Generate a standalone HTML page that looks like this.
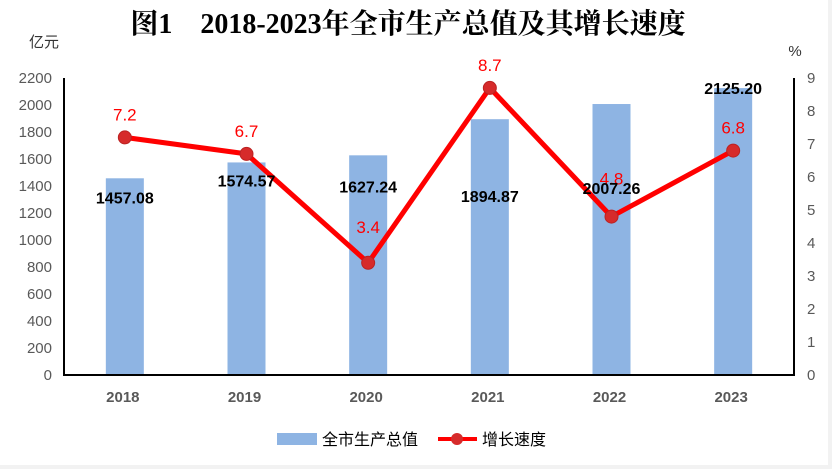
<!DOCTYPE html>
<html><head><meta charset="utf-8">
<style>
body{margin:0;background:#f2f2f2}
svg{display:block}
</style></head><body>
<svg width="832" height="469" xmlns="http://www.w3.org/2000/svg">
<rect x="0" y="0" width="828" height="465" fill="#fff"/>
<text x="408" y="33" text-anchor="middle" font-family="'Liberation Serif','Noto Serif CJK SC',serif" font-size="28" font-weight="bold" fill="#000">图1　2018-2023年全市生产总值及其增长速度</text>
<text x="44" y="47" text-anchor="middle" font-family="'Liberation Sans','Noto Sans CJK SC',sans-serif" font-size="15" fill="#333">亿元</text>
<text x="795" y="56" text-anchor="middle" font-family="'Liberation Sans',sans-serif" font-size="15" fill="#333">%</text>
<g id="plot"></g>
<g>
<rect x="277" y="433" width="40" height="12" fill="#8eb4e3"/>
<text x="322" y="445" font-family="'Liberation Sans','Noto Sans CJK SC',sans-serif" font-size="16" fill="#000">全市生产总值</text>
<line x1="438" y1="439" x2="477" y2="439" stroke="#ff0000" stroke-width="4"/>
<circle cx="457" cy="439" r="6" fill="#d62b2b"/>
<text x="482" y="445" font-family="'Liberation Sans','Noto Sans CJK SC',sans-serif" font-size="16" fill="#000">增长速度</text>
</g>
</svg>
<script>
const categories = ["2018","2019","2020","2021","2022","2023"];
const gdpValues = [1457.08,1574.57,1627.24,1894.87,2007.26,2125.20];
const gdpLabels = ["1457.08","1574.57","1627.24","1894.87","2007.26","2125.20"];
const growthValues = [7.2,6.7,3.4,8.7,4.8,6.8];
const leftTicks = [0,200,400,600,800,1000,1200,1400,1600,1800,2000,2200];
const rightTicks = [0,1,2,3,4,5,6,7,8,9];

const NS="http://www.w3.org/2000/svg";
const g=document.getElementById('plot');
const x0=64,x1=794,yBase=375,yTop=78;
const yL=v=>yBase-(v/2200)*(yBase-yTop);
const yR=v=>yBase-(v/9)*(yBase-yTop);
const band=(x1-x0)/categories.length;
const xC=i=>x0+band*(i+0.5);
function mk(tag,attrs,txt){const e=document.createElementNS(NS,tag);for(const k in attrs)e.setAttribute(k,attrs[k]);if(txt!==undefined)e.textContent=txt;g.appendChild(e);return e;}
const font="'Liberation Sans',sans-serif";
leftTicks.forEach(t=>{
  const e=mk('text',{x:52,y:yL(t)+5,'text-anchor':'end','font-family':font,'font-size':15,fill:'#595959'},String(t));
  
  
});
rightTicks.forEach(t=>{
  const e=mk('text',{x:807,y:yR(t)+5,'font-family':font,'font-size':15,fill:'#595959'},String(t));
  
  
});
gdpValues.forEach((v,i)=>{
  const b=mk('rect',{x:xC(i)-19,y:yL(v),width:38,height:yBase-yL(v),fill:'#8eb4e3'});
  
  
  const c=mk('text',{x:xC(i)-2,y:yBase+27,'text-anchor':'middle','font-family':font,'font-size':15,'font-weight':'bold',fill:'#595959'},categories[i]);
  
  
});
const ax=mk('path',{d:`M${x0},${yTop}V${yBase}H${x1}V${yTop}`,fill:'none',stroke:'#000','stroke-width':2});


const pts=growthValues.map((v,i)=>[xC(i),yR(v)]);
const ln=mk('polyline',{points:pts.map(p=>p.join(',')).join(' '),fill:'none',stroke:'#ff0000','stroke-width':5,'stroke-linejoin':'round'});


const gOff=[-17,-17,-30,-17,-32,-17];
pts.forEach((p,i)=>{
  const c=mk('circle',{cx:p[0],cy:p[1],r:6.5,fill:'#d62b2b',stroke:'#b22','stroke-width':1});
  
  
  const t=mk('text',{x:p[0],y:p[1]+gOff[i],'text-anchor':'middle','font-family':font,'font-size':17,fill:'#ff0000'},growthValues[i].toFixed(1));
  
  
});
const lblOff=[25,24,37,83,90,6];
gdpValues.forEach((v,i)=>{
  const t=mk('text',{x:xC(i),y:yL(v)+lblOff[i],'text-anchor':'middle','font-family':font,'font-size':16,'font-weight':'bold',fill:'#000'},gdpLabels[i]);
  
  
});
</script>
</body></html>
